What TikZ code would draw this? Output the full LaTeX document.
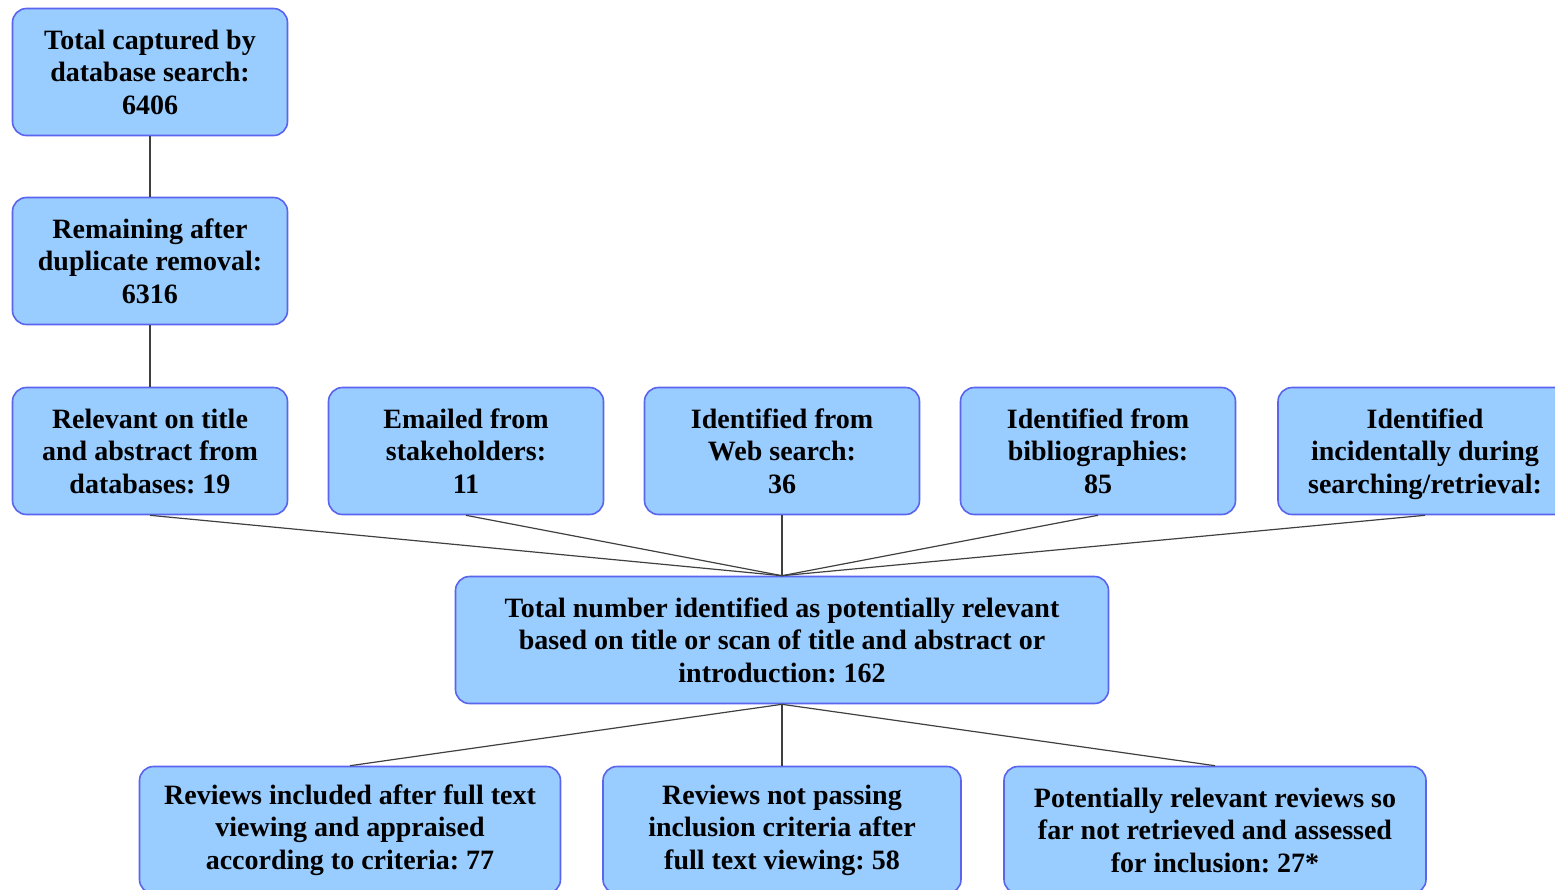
\documentclass[tikz,border=0pt]{standalone}
\usepackage{fontspec}
\setmainfont{Liberation Serif}[BoldFont={Liberation Serif Bold}]
\frenchspacing
\definecolor{boxFill}{HTML}{99CCFF}
\definecolor{boxLine}{HTML}{5A64EE}
\begin{document}
\begin{tikzpicture}[x=0.5pt, y=-0.5pt,
        box/.style={draw=boxLine, fill=boxFill, thick, rounded corners=7pt,
            minimum width=137.5pt, minimum height=63.5pt, align=center,
            font=\rmfamily\bfseries\fontsize{14}{16.25}\selectfont, inner sep=2pt},
        link/.style={draw=black!75, line width=0.6pt}]
    \useasboundingbox (0, 0) rectangle (1555, 890);
    \clip (0, 0) rectangle (1555, 890);
    % search stages
    \node[box] (total) at (150, 72) {Total captured by\\database search:\\6406};
    \node[box] (dedup) at (150, 261) {Remaining after\\duplicate removal:\\6316};
    % sources
    \node[box] (srcDb) at (150, 451) {Relevant on title\\and abstract from\\databases: 19};
    \node[box] (srcMail) at (466, 451) {Emailed from\\stakeholders:\\11};
    \node[box] (srcWeb) at (782, 451) {Identified from\\Web search:\\36};
    \node[box] (srcBib) at (1098, 451) {Identified from\\bibliographies:\\85};
    \node[box, minimum width=147pt] (srcInc) at (1425, 451)
        {Identified\\incidentally during\\\raisebox{0pt}[\height][0pt]{searching/retrieval:}};
    \node[box, minimum width=326.5pt] (relevant) at (782, 640)
        {Total number identified as potentially relevant\\based on title or scan of title and abstract or\\introduction: 162};
    % outcomes
    \node[box, minimum width=210.5pt] (outIncl) at (350, 830) {Reviews included after full text\\viewing and appraised\\according to criteria: 77};
    \node[box, minimum width=179pt] (outExcl) at (782, 830) {Reviews not passing\\inclusion criteria after\\full text viewing: 58};
    \node[box, minimum width=211pt] (outOpen) at (1215, 830) {Potentially relevant reviews so\\far not retrieved and assessed\\for inclusion: 27*};
    \draw[link] (total) -- (dedup);
    \draw[link] (dedup) -- (srcDb);
    \foreach \cSrc in {srcDb, srcMail, srcWeb, srcBib, srcInc}
        \draw[link] (\cSrc.south) -- (relevant.north);
    \foreach \cOut in {outIncl, outExcl, outOpen}
        \draw[link] (relevant.south) -- (\cOut.north);
\end{tikzpicture}
\end{document}
